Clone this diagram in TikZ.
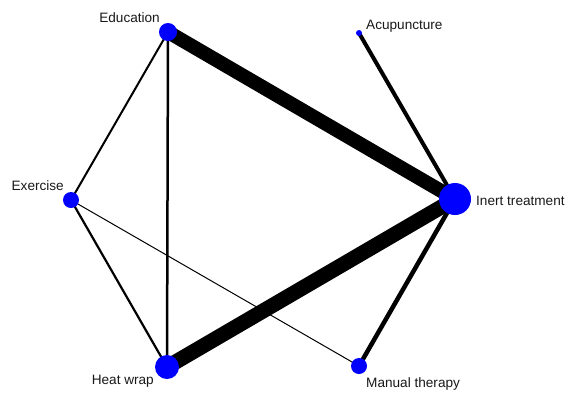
\documentclass[tikz,border=0pt]{standalone}
\usepackage{fontspec}
\setmainfont{Liberation Sans}
\begin{document}
\begin{tikzpicture}[x=1pt,y=-1pt,
  vert/.style={circle,fill=blue,inner sep=0pt,minimum size=#1},
  lab/.style={font=\fontsize{13.6}{15}\selectfont,inner sep=0pt,text=black!90},
  edge/.style={line width=#1,draw=black}]
\useasboundingbox (0,0) rectangle (569,392);
\fill[white] (0,0) rectangle (569,392);
% vertices (coordinates)
\coordinate (edu) at (168,32);
\coordinate (acu) at (359,33);
\coordinate (exe) at (71,200);
\coordinate (ine) at (455,199);
\coordinate (hea) at (167,367);
\coordinate (man) at (359,366);
% edges
\draw[edge=14pt] (edu) -- (ine);
\draw[edge=15pt] (hea) -- (ine);
\draw[edge=4pt] (acu) -- (ine);
\draw[edge=4.5pt] (man) -- (ine);
\draw[edge=2.5pt] (edu) -- (hea);
\draw[edge=2pt] (edu) -- (exe);
\draw[edge=2.2pt] (exe) -- (hea);
\draw[edge=1pt] (exe) -- (man);
% vertex discs
\node[vert=18pt] (nedu) at (edu) {};
\node[vert=6pt] (nacu) at (acu) {};
\node[vert=16pt] (nexe) at (exe) {};
\node[vert=32pt] (nine) at (ine) {};
\node[vert=24pt] (nhea) at (hea) {};
\node[vert=16pt] (nman) at (man) {};
% labels
\node[lab,anchor=east] (ledu) at (160,18) {Education};
\node[lab,anchor=west] (lacu) at (366,26) {Acupuncture};
\node[lab,anchor=east] (lexe) at (64,186) {Exercise};
\node[lab,anchor=west] (line) at (476,201) {Inert treatment};
\node[lab,anchor=east] (lhea) at (154,381) {Heat wrap};
\node[lab,anchor=west] (lman) at (366,384) {Manual therapy};
\end{tikzpicture}
\end{document}
